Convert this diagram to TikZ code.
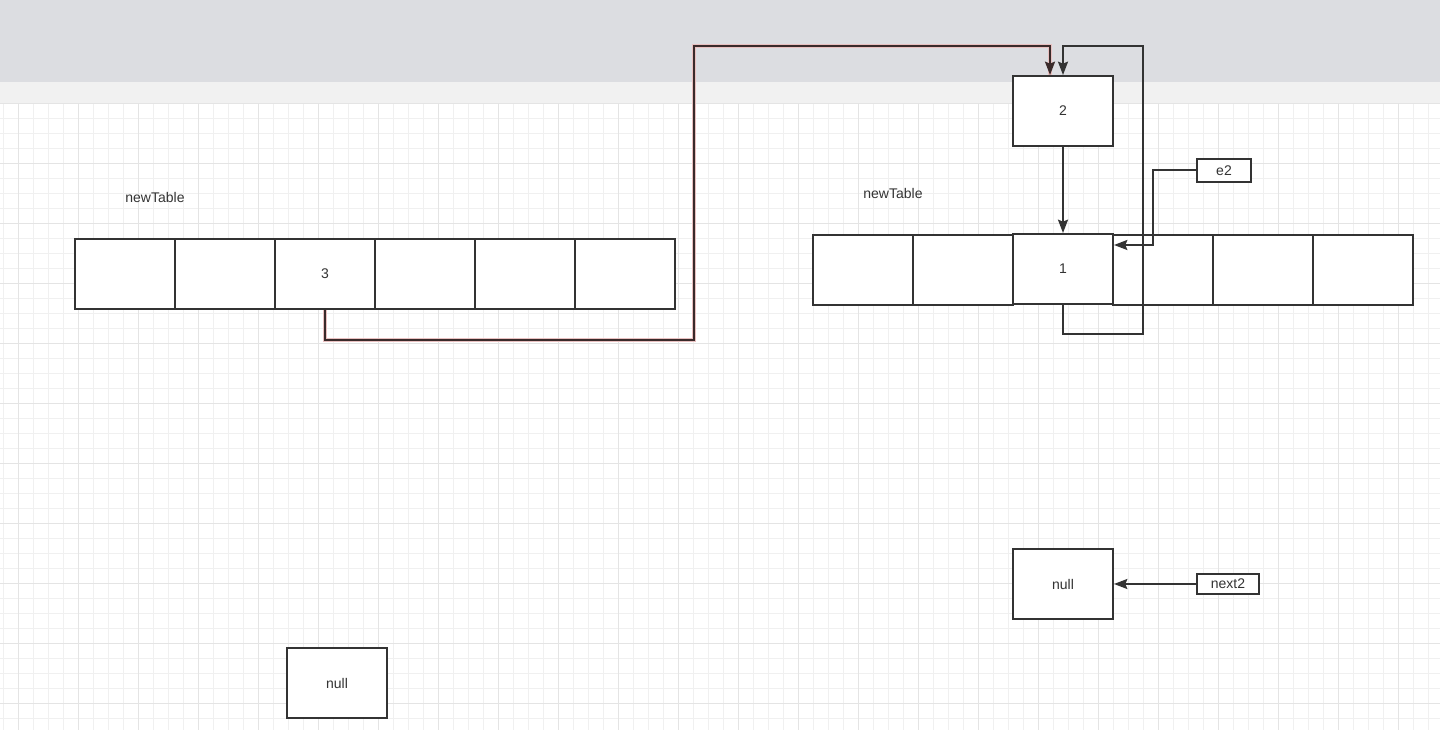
\documentclass[tikz,border=0pt]{standalone}
\usepackage{fontspec}
\setmainfont{Liberation Sans}
\usetikzlibrary{arrows.meta}
\definecolor{inkgray}{HTML}{333333}
\definecolor{bandgray}{HTML}{DCDDE1}
\definecolor{stripgray}{HTML}{F1F1F1}
\definecolor{minorgrid}{HTML}{F0F0F0}
\definecolor{majorgrid}{HTML}{E4E4E4}
\definecolor{linkdark}{HTML}{3A2A2A}
\definecolor{linkhalo}{HTML}{E8C0C0}
\tikzset{
  cell/.style={draw=inkgray, line width=1.5pt, fill=white, minimum width=75pt,
    minimum height=52.5pt, inner sep=0pt, text=inkgray},
  tag/.style={draw=inkgray, line width=1.5pt, fill=white, inner sep=0pt, text=inkgray},
  label/.style={text=inkgray, inner sep=0pt},
  link/.style={draw=inkgray, line width=1.5pt, -{Stealth[length=10pt,width=7.5pt,inset=1.5pt]}},
  hotlink/.style={link, draw=linkdark, preaction={draw=linkhalo, line width=3.5pt, -}},
}
\begin{document}
\begin{tikzpicture}[x=0.75pt, y=-0.75pt, every node/.style={font=\fontsize{10.5}{12}\selectfont}]
    \useasboundingbox (0,0) rectangle (1440,730);
    % canvas
    \fill[white] (0,0) rectangle (1440,730);
    \foreach \gx in {3.3,18.3,...,1440} \draw[minorgrid, line width=0.75pt] (\gx,103) -- (\gx,730);
    \foreach \gy in {118.3,133.3,...,730} \draw[minorgrid, line width=0.75pt] (0,\gy) -- (1440,\gy);
    \foreach \gx in {18.3,78.3,...,1440} \draw[majorgrid, line width=0.75pt] (\gx,103) -- (\gx,730);
    \foreach \gy in {103.3,163.3,...,730} \draw[majorgrid, line width=0.75pt] (0,\gy) -- (1440,\gy);
    \fill[bandgray] (0,0) rectangle (1440,82);
    \fill[stripgray] (0,82) rectangle (1440,103);

    % left table
    \node[label] (ltitle) at (155,198) {newTable};
    \foreach \i in {0,...,5}
        \node[cell] (l\i) at (125+100*\i,274) {};
    \node[label] at (l2) {3};
    \node[cell] (nulll) at (337,683) {null};

    % right table
    \node[label] (rtitle) at (893,194) {newTable};
    \foreach \i in {0,1,3,4,5}
        \node[cell] (r\i) at (863+100*\i,270) {};
    \node[cell] (one) at (1063,269) {1};
    \node[cell] (two) at (1063,111) {2};
    \node[tag, minimum width=40pt, minimum height=17.5pt] (e2) at (1224,170.5) {e2};
    \node[cell] (nullr) at (1063,584) {null};
    \node[tag, minimum width=46pt, minimum height=15pt] (next2) at (1228,584) {next2};

    % connectors
    \draw[hotlink] (l2.south) -- ++(0,30) -| (694,46) -| ([xshift=-9.75pt]two.north);
    \draw[link] (two.south) -- (one.north);
    \draw[link] (one.south) -- ++(0,29) -| (1143,46) -| (two.north);
    \draw[link] (e2.west) -- ++(-43,0) |- ([yshift=18pt]one.east);
    \draw[link] (next2.west) -- (nullr.east);
\end{tikzpicture}
\end{document}
